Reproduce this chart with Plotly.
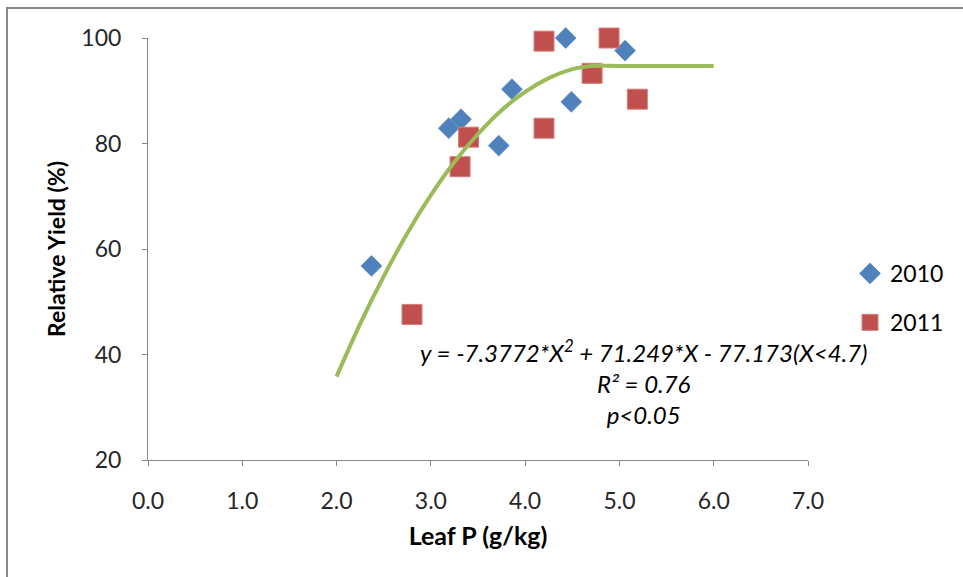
import plotly.graph_objects as go

# ---- data ----
x2010 = [2.37, 3.19, 3.32, 3.72, 3.86, 4.49, 4.43, 5.06]
y2010 = [56.8, 82.9, 84.6, 79.6, 90.3, 87.9, 100.0, 97.6]

x2011 = [2.80, 3.31, 3.40, 4.20, 4.20, 4.71, 4.89, 5.19]
y2011 = [47.6, 75.6, 81.2, 82.9, 99.4, 93.3, 100.0, 88.4]

# fitted curve points
x_fit = [2.0, 2.25, 2.5, 2.75, 3.0, 3.25, 3.5, 3.75, 4.0, 4.25, 4.5, 4.7, 5.0, 5.5, 6.0]
y_fit = [35.8, 45.8, 54.8, 63.0, 70.2, 76.5, 81.8, 86.3, 89.8, 92.4, 94.1, 94.7, 94.7, 94.7, 94.7]

x_ticks = [0, 1, 2, 3, 4, 5, 6, 7]
y_ticks = [20, 40, 60, 80, 100]

eq_lines = ["y = -7.3772*X<sup>2</sup> + 71.249*X - 77.173(X<4.7)",
            "R² = 0.76",
            "p<0.05"]

FONT = "Lato"
W, H = 963, 577
L, R, T, B = 148, 155, 38, 117
pw, ph = W - L - R, H - T - B

def px_x(p):
    return (p - L) / pw

def px_y(p):
    return (H - B - p) / ph

fig = go.Figure()
fig.add_trace(go.Scatter(
    x=x2010, y=y2010, mode="markers", name="2010", legendgroup="a",
    cliponaxis=False,
    marker=dict(symbol="diamond", size=16, color="#4F81BD",
                line=dict(width=1, color="#6A93C8"))))
fig.add_trace(go.Scatter(
    x=x2011, y=y2011, mode="markers", name="2011", legendgroup="b",
    cliponaxis=False,
    marker=dict(symbol="square", size=20, color="#C0504D",
                line=dict(width=1, color="#D47D7A"))))
fig.add_trace(go.Scatter(
    x=x_fit, y=y_fit, mode="lines", showlegend=False, cliponaxis=False,
    line=dict(color="#9BBB59", width=4, shape="spline")))

fig.add_annotation(
    x=5.25, y=34.8, xref="x", yref="y",
    text="<br>".join(eq_lines), showarrow=False, align="center",
    xanchor="center", yanchor="middle",
    font=dict(family=FONT, size=24, color="#000000", style="italic"))

fig.add_shape(type="rect", xref="paper", yref="paper",
              x0=px_x(7), x1=px_x(980), y0=px_y(600), y1=px_y(8),
              line=dict(color="#888888", width=2), fillcolor="rgba(0,0,0,0)",
              layer="below")

axis_common = dict(showgrid=False, zeroline=False, showline=True,
                   linecolor="#868686", linewidth=1, ticks="outside",
                   ticklen=5, tickcolor="#868686", tickwidth=1,
                   tickfont=dict(family=FONT, size=23, color="#262626"))

fig.update_xaxes(range=[0, 7], tickvals=x_ticks, tickformat=".1f",
                 ticklabelstandoff=15,
                 title=dict(text="<b>Leaf P (g/kg)</b>", standoff=14,
                            font=dict(family=FONT, size=25, color="#000000")),
                 **axis_common)
fig.update_yaxes(range=[20, 100], tickvals=y_ticks,
                 ticklabelstandoff=16,
                 title=dict(text="<b>Relative Yield (%)</b>", standoff=9,
                            font=dict(family=FONT, size=23, color="#000000")),
                 **axis_common)

fig.update_layout(
    width=W, height=H,
    margin=dict(l=L, r=R, t=T, b=B, autoexpand=False),
    paper_bgcolor="white", plot_bgcolor="white",
    showlegend=True,
    legend=dict(x=px_x(850), y=px_y(252), xanchor="left", yanchor="top",
                traceorder="grouped", tracegroupgap=16,
                font=dict(family=FONT, size=23, color="#000000"),
                itemwidth=30, bgcolor="rgba(0,0,0,0)"),
)

fig.write_html("out.html")
